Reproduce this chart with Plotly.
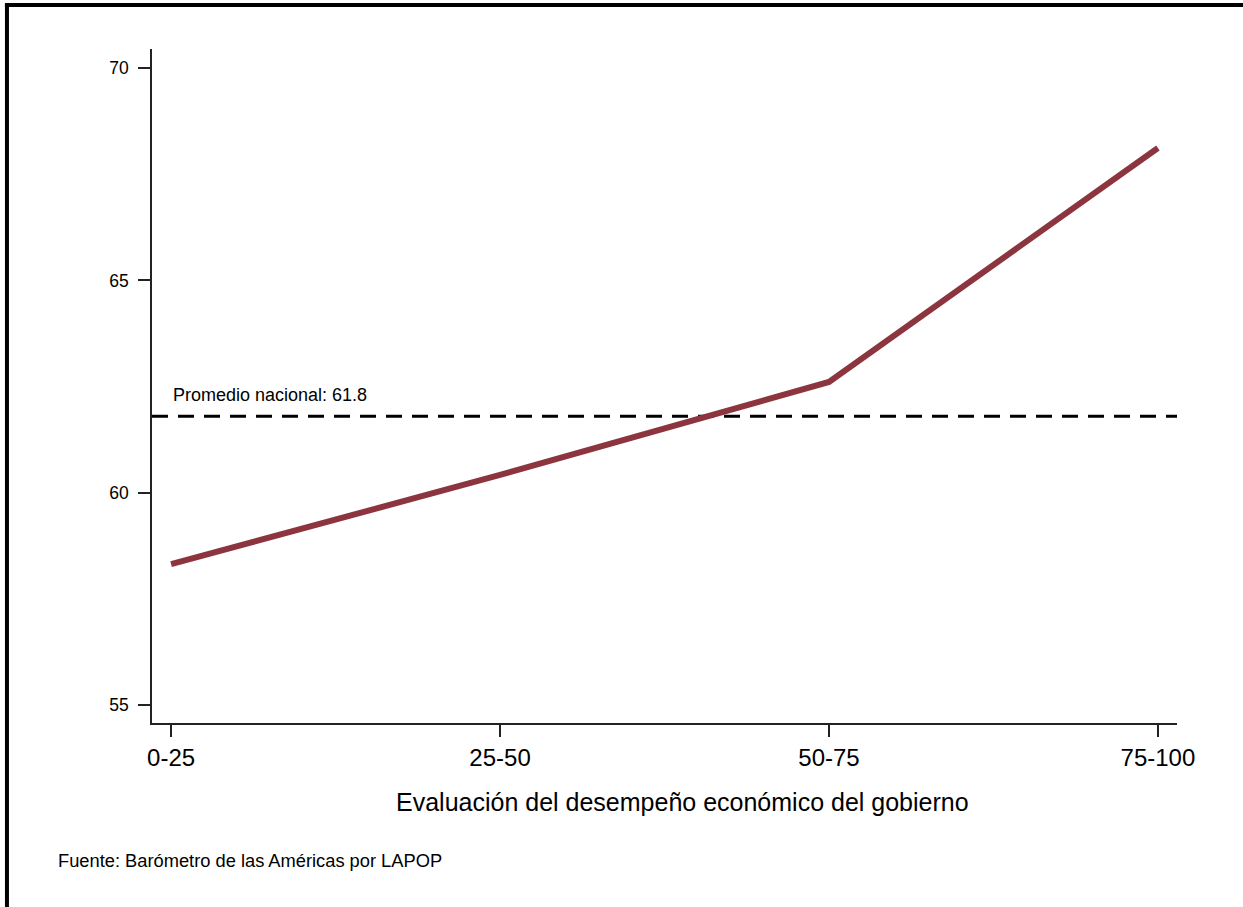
import plotly.graph_objects as go

categories = ["0-25", "25-50", "50-75", "75-100"]
values = [58.32, 60.42, 62.61, 68.12]
national_avg = 61.8
y_ticks = [55, 60, 65, 70]

x_idx = list(range(len(categories)))
FONT = "Liberation Sans, Arial, sans-serif"

fig = go.Figure()
fig.add_trace(go.Scatter(
    x=[-0.058, 3.058], y=[national_avg, national_avg], mode="lines",
    line=dict(color="black", width=3, dash="16px,10px"), hoverinfo="skip", showlegend=False))
fig.add_trace(go.Scatter(
    x=x_idx, y=values, mode="lines",
    line=dict(color="#8C353F", width=6), showlegend=False))

fig.add_annotation(x=0, y=national_avg, xref="x", yref="y", text=f"Promedio nacional: {national_avg}",
                   showarrow=False, xanchor="left", yanchor="middle", yshift=21,
                   font=dict(family=FONT, size=18, color="black"))
fig.add_annotation(x=-0.0935, y=-0.2033, xref="paper", yref="paper",
                   text="Fuente: Barómetro de las Américas por LAPOP",
                   showarrow=False, xanchor="left", yanchor="middle",
                   font=dict(family=FONT, size=18.3, color="black"))
fig.add_annotation(x=0.518, y=-0.1172, xref="paper", yref="paper",
                   text="Evaluación del desempeño económico del gobierno",
                   showarrow=False, xanchor="center", yanchor="middle",
                   font=dict(family=FONT, size=25, color="black"))

# frame (left and top edges)
fig.add_shape(type="line", xref="paper", yref="paper", x0=-0.1415, x1=-0.1415, y0=-0.3, y1=1.0653,
              line=dict(color="black", width=4))
fig.add_shape(type="line", xref="paper", yref="paper", x0=-0.1435, x1=1.0644, y0=1.0653, y1=1.0653,
              line=dict(color="black", width=4))

fig.update_xaxes(range=[-0.058, 3.058], tickvals=x_idx, ticktext=categories,
                 showline=True, linecolor="#222", linewidth=1.5, ticks="outside", ticklen=12,
                 tickcolor="#222", tickwidth=1.5, showgrid=False, zeroline=False,
                 tickfont=dict(family=FONT, size=24, color="black"))
fig.update_yaxes(range=[54.58, 70.45], tickvals=y_ticks,
                 showline=True, linecolor="#222", linewidth=1.5, ticks="outside", ticklen=12,
                 tickcolor="#222", tickwidth=1.5, showgrid=False, zeroline=False,
                 ticklabelstandoff=6,
                 tickfont=dict(family=FONT, size=17.5, color="black"))

fig.update_layout(width=1243, height=907, margin=dict(l=152, r=66, t=49, b=184),
                  plot_bgcolor="white", paper_bgcolor="white", font=dict(family=FONT))

fig.write_html("out.html", config={"displayModeBar": False},
               post_script="document.body.style.margin='0px';")
